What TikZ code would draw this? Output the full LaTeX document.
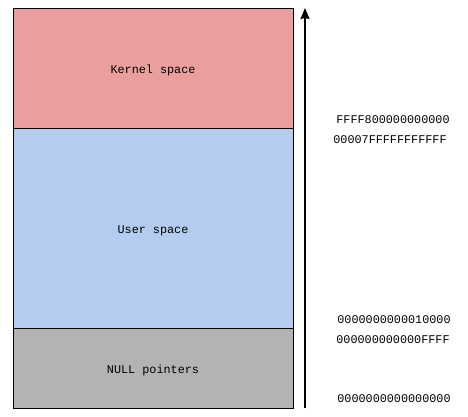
\documentclass[tikz,border=0pt]{standalone}
\usepackage{fontspec}
\setmonofont{Liberation Mono}
\usepackage{xcolor}
\usetikzlibrary{arrows.meta}
\usetikzlibrary{positioning}

\definecolor{kernelred}{RGB}{234,159,158}
\definecolor{userblue}{RGB}{179,204,240}
\definecolor{nullgray}{RGB}{179,179,179}

\tikzset{
  region/.style={draw, line width=1pt, minimum width=280pt, inner sep=0pt, text height=14pt, font=\ttfamily\fontsize{11.8}{13}\selectfont},
  addr/.style={inner sep=0pt, font=\ttfamily\fontsize{11.8}{13}\selectfont}
}

\begin{document}
\begin{tikzpicture}[x=1pt, y=-1pt]

\useasboundingbox (0, 0) rectangle (468, 416);

\node[region, fill=kernelred, minimum height=120pt] (kernel) at (153, 68) {Kernel space};
\node[region, fill=userblue, minimum height=200pt] (user) at (153, 228) {User space};
\node[region, fill=nullgray, minimum height=80pt] (null) at (153, 368) {NULL pointers};

\coordinate (base) at (305, 408);
\coordinate (top) at (305, 8);
\draw[-{Stealth[length=11pt, width=9pt, inset=1pt]}, line width=1.3pt] (base) to (top);

\node[addr] (kstart) at (393, 120) {FFFF800000000000};
\node[addr] (uend) at (390, 140) {00007FFFFFFFFFFF};
\node[addr] (ustart) at (394, 320) {0000000000010000};
\node[addr] (nend) at (393, 340) {000000000000FFFF};
\node[addr] (nstart) at (394, 399) {0000000000000000};

\end{tikzpicture}
\end{document}
